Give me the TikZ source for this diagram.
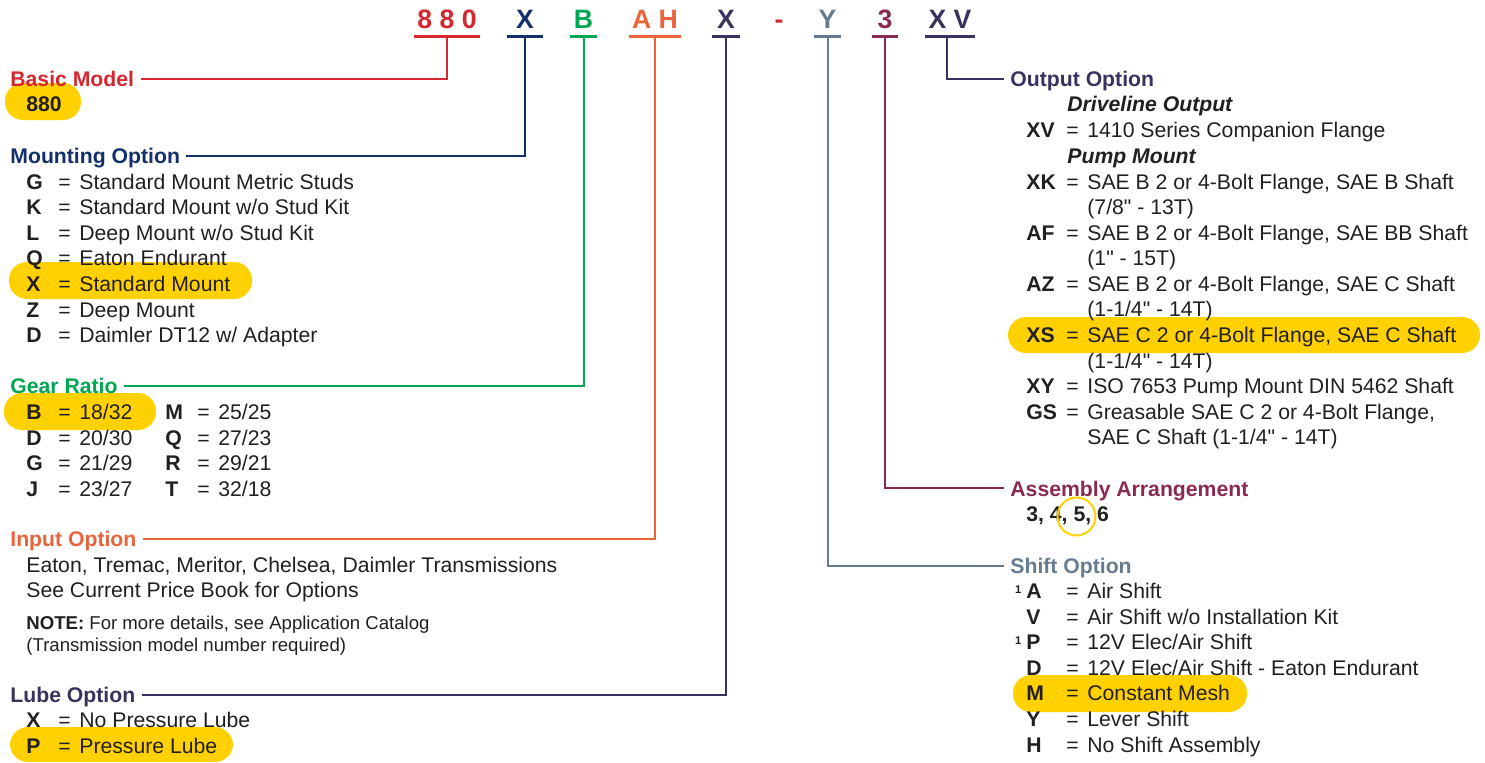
\documentclass[tikz,border=0pt]{standalone}
\usepackage{fontspec}
\setmainfont{Liberation Sans}[Ligatures=TeXOff]
\usepackage{tikz}

\definecolor{basicred}{HTML}{D6262F}
\definecolor{mountblue}{HTML}{14306B}
\definecolor{geargreen}{HTML}{00A651}
\definecolor{inputorange}{HTML}{E8653C}
\definecolor{lubepurple}{HTML}{3A325E}
\definecolor{shiftslate}{HTML}{667B90}
\definecolor{asmmaroon}{HTML}{8A2A52}
\definecolor{hiyellow}{HTML}{FFD100}
\definecolor{ink}{HTML}{231F20}

\newcommand{\spc}{\kern3.7pt}
\newcommand{\opt}[3][16pt]{\makebox[#1][l]{\bfseries #2}\makebox[10.5pt][l]{=}#3}
\newcommand{\fnote}{\llap{\raisebox{2.5pt}{\fontsize{5.6}{6}\selectfont\bfseries 1}\hspace{2.5pt}}}

\begin{document}
\begin{tikzpicture}[x=0.5pt,y=-0.5pt,
    hilite/.style={fill=hiyellow, rounded corners=9pt},
    bar/.style={line width=1.4pt},
    stem/.style={line width=1pt},
    item/.style={anchor=base west, inner sep=0pt, text=ink, font=\fontsize{10.6}{12.8}\selectfont},
    sub/.style={item, font=\fontsize{10.6}{12.8}\selectfont\bfseries\itshape},
    note/.style={item, font=\fontsize{9.3}{11}\selectfont}]
    \useasboundingbox (0,0) rectangle (1485,762);

    % highlights
    \fill[hilite] (5,83) rectangle (81,120);
    \fill[hilite] (9,262) rectangle (252,299);
    \fill[hilite] (4,393) rectangle (156,430);
    \fill[hilite] (10,727) rectangle (233,762);
    \fill[hilite] (1008,317) rectangle (1480,353);
    \fill[hilite] (1013,675) rectangle (1247,712);

    % model code
    \begin{scope}[every node/.style={font=\fontsize{13.3}{16}\selectfont\bfseries, anchor=base,
                  text depth=0pt, inner xsep=1.5pt, inner ysep=3.85pt, minimum width=13pt}]
        \node[text=basicred] (cBase) at (447,28.3) {8\spc8\spc0};
        \node[text=mountblue, minimum width=18pt] (cMount) at (525,28.3) {X};
        \node[text=geargreen] (cGear) at (583.5,28.3) {B};
        \node[text=inputorange] (cInput) at (655,28.3) {A\spc H};
        \node[text=lubepurple, minimum width=14pt] (cLube) at (726,28.3) {X};
        \node[text=basicred] (hyph) at (779,28.3) {-};
        \node[text=shiftslate] (cShift) at (827.5,28.3) {Y};
        \node[text=asmmaroon] (cAsm) at (885,28.3) {3};
        \node[text=lubepurple] (cOut) at (950,28.3) {X\spc V};
    \end{scope}

    % headings
    \begin{scope}[every node/.style={font=\fontsize{10.6}{12.8}\selectfont\bfseries, anchor=base west,
                  text height=7.7pt, text depth=0pt, inner xsep=3pt, inner ysep=0pt}]
        \node[text=basicred] (hBase) at (4,86.2) {Basic Model};
        \node[text=mountblue] (hMount) at (4,163.3) {Mounting Option};
        \node[text=geargreen] (hGear) at (4,393.3) {Gear Ratio};
        \node[text=inputorange] (hInput) at (4,546.7) {Input Option};
        \node[text=lubepurple] (hLube) at (4,702.7) {Lube Option};
        \node[text=lubepurple] (hOut) at (1004,86.7) {Output Option};
        \node[text=asmmaroon] (hAsm) at (1004,496) {Assembly Arrangement};
        \node[text=shiftslate] (hShift) at (1004,573.3) {Shift Option};
    \end{scope}

    % left column
    \node[item, font=\fontsize{10.6}{12.8}\selectfont\bfseries] (b880) at (26,111.7) {880};

    \node[item] (mG) at (26,189) {\opt{G}{Standard Mount Metric Studs}};
    \node[item] (mK) at (26,214.6) {\opt{K}{Standard Mount w/o Stud Kit}};
    \node[item] (mL) at (26,240.2) {\opt{L}{Deep Mount w/o Stud Kit}};
    \node[item] (mQ) at (26,265.8) {\opt{Q}{Eaton Endurant}};
    \node[item] (mX) at (26,291.4) {\opt{X}{Standard Mount}};
    \node[item] (mZ) at (26,317) {\opt{Z}{Deep Mount}};
    \node[item] (mD) at (26,342.6) {\opt{D}{Daimler DT12 w/ Adapter}};

    \node[item] (gB) at (26,419.3) {\opt{B}{18/32}};
    \node[item] (gD) at (26,445) {\opt{D}{20/30}};
    \node[item] (gG) at (26,470.6) {\opt{G}{21/29}};
    \node[item] (gJ) at (26,496.2) {\opt{J}{23/27}};
    \node[item] (gM) at (165,419.3) {\opt{M}{25/25}};
    \node[item] (gQ) at (165,445) {\opt{Q}{27/23}};
    \node[item] (gR) at (165,470.6) {\opt{R}{29/21}};
    \node[item] (gT) at (165,496.2) {\opt{T}{32/18}};

    \node[item] (in1) at (26,572) {Eaton, Tremac, Meritor, Chelsea, Daimler Transmissions};
    \node[item] (in2) at (26,597.6) {See Current Price Book for Options};
    \node[note] (note1) at (26,629.3) {\textbf{NOTE:} For more details, see Application Catalog};
    \node[note] (note2) at (26,651.5) {(Transmission model number required)};

    \node[item] (lX) at (26,727.5) {\opt{X}{No Pressure Lube}};
    \node[item] (lP) at (26,753) {\opt{P}{Pressure Lube}};

    % right column
    \node[sub] (oDrive) at (1067,111.7) {Driveline Output};
    \node[item] (oXV) at (1026,137.5) {\opt[20pt]{XV}{1410 Series Companion Flange}};
    \node[sub] (oPump) at (1067,163) {Pump Mount};
    \node[item] (oXK) at (1026,189) {\opt[20pt]{XK}{SAE B 2 or 4-Bolt Flange, SAE B Shaft}};
    \node[item] (oXKb) at (1087,214.5) {(7/8" - 13T)};
    \node[item] (oAF) at (1026,240) {\opt[20pt]{AF}{SAE B 2 or 4-Bolt Flange, SAE BB Shaft}};
    \node[item] (oAFb) at (1087,265.5) {(1" - 15T)};
    \node[item] (oAZ) at (1026,291) {\opt[20pt]{AZ}{SAE B 2 or 4-Bolt Flange, SAE C Shaft}};
    \node[item] (oAZb) at (1087,316.8) {(1-1/4" - 14T)};
    \node[item] (oXS) at (1026,342.5) {\opt[20pt]{XS}{SAE C 2 or 4-Bolt Flange, SAE C Shaft}};
    \node[item] (oXSb) at (1087,368) {(1-1/4" - 14T)};
    \node[item] (oXY) at (1026,393.5) {\opt[20pt]{XY}{ISO 7653 Pump Mount DIN 5462 Shaft}};
    \node[item] (oGS) at (1026,419) {\opt[20pt]{GS}{Greasable SAE C 2 or 4-Bolt Flange,}};
    \node[item] (oGSb) at (1087,444.5) {SAE C Shaft (1-1/4" - 14T)};

    \node[item, font=\fontsize{10.6}{12.8}\selectfont\bfseries] (aNums) at (1026,521.7) {3, 4, 5, 6};
    \draw[hiyellow, line width=1pt] (1076.5,516.5) circle[radius=9.5pt];

    \node[item] (sA) at (1026,598.3) {\opt[20pt]{\fnote A}{Air Shift}};
    \node[item] (sV) at (1026,624) {\opt[20pt]{V}{Air Shift w/o Installation Kit}};
    \node[item] (sP) at (1026,649.6) {\opt[20pt]{\fnote P}{12V Elec/Air Shift}};
    \node[item] (sD) at (1026,675.2) {\opt[20pt]{D}{12V Elec/Air Shift - Eaton Endurant}};
    \node[item] (sM) at (1026,700.8) {\opt[20pt]{M}{Constant Mesh}};
    \node[item] (sY) at (1026,726.4) {\opt[20pt]{Y}{Lever Shift}};
    \node[item] (sH) at (1026,752) {\opt[20pt]{H}{No Shift Assembly}};

    % bars under the code
    \draw[bar, basicred] (cBase.south west) -- (cBase.south east);
    \draw[bar, mountblue] (cMount.south west) -- (cMount.south east);
    \draw[bar, geargreen] (cGear.south west) -- (cGear.south east);
    \draw[bar, inputorange] (cInput.south west) -- (cInput.south east);
    \draw[bar, lubepurple] (cLube.south west) -- (cLube.south east);
    \draw[bar, shiftslate] (cShift.south west) -- (cShift.south east);
    \draw[bar, asmmaroon] (cAsm.south west) -- (cAsm.south east);
    \draw[bar, lubepurple] (cOut.south west) -- (cOut.south east);

    % leaders
    \draw[stem, basicred] (cBase.south) |- (hBase.east);
    \draw[stem, mountblue] (cMount.south) |- (hMount.east);
    \draw[stem, geargreen] (cGear.south) |- (hGear.east);
    \draw[stem, inputorange] (cInput.south) |- (hInput.east);
    \draw[stem, lubepurple] (cLube.south) |- (hLube.east);
    \draw[stem, shiftslate] (cShift.south) |- (hShift.west);
    \draw[stem, asmmaroon] (cAsm.south) |- (hAsm.west);
    \draw[stem, lubepurple] ([xshift=-1.5pt]cOut.south) |- (hOut.west);
\end{tikzpicture}
\end{document}
